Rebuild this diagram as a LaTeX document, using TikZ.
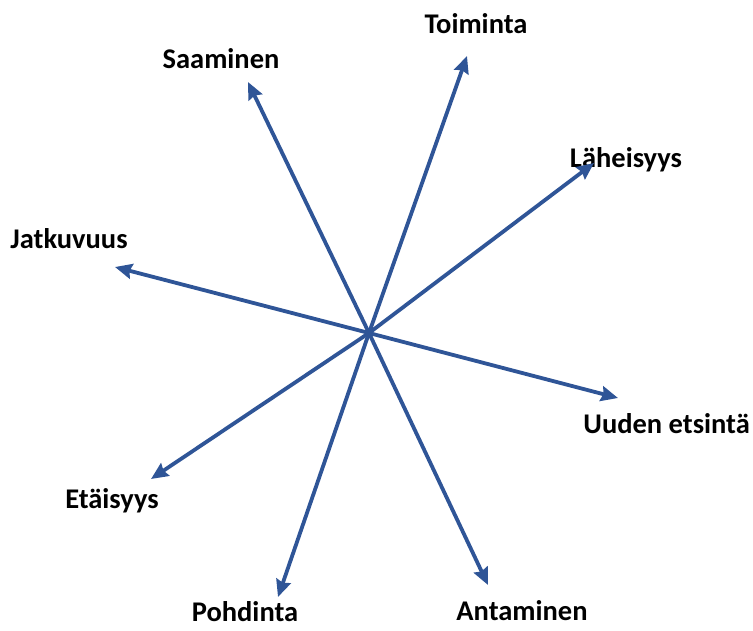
\documentclass[tikz,border=0pt]{standalone}
\usepackage{fontspec}
\setmainfont{Carlito}
\usetikzlibrary{arrows.meta}
\definecolor{arrowblue}{RGB}{47,85,151}
\tikzset{
  lbl/.style={font=\bfseries\fontsize{28.5}{32}\selectfont, inner sep=0pt, anchor=base},
  ray/.style={draw=arrowblue, line width=3.8pt, -{Stealth[length=17pt,width=15pt,inset=2pt]}}
}
\begin{document}
\begin{tikzpicture}[x=1pt,y=-1pt]
\useasboundingbox (0,0) rectangle (753,630);
\coordinate (c) at (369,333);
\coordinate (tToiminta) at (467,56);
\coordinate (tSaaminen) at (248,82);
\coordinate (tLaheisyys) at (594,163);
\coordinate (tJatkuvuus) at (115,267);
\coordinate (tUuden) at (618,398);
\coordinate (tEtaisyys) at (151,479);
\coordinate (tPohdinta) at (278,597);
\coordinate (tAntaminen) at (488,585);
\node[lbl] (lToiminta) at (476,33) {Toiminta};
\node[lbl] (lSaaminen) at (221,68) {Saaminen};
\node[lbl] (lLaheisyys) at (626,167) {Läheisyys};
\node[lbl] (lJatkuvuus) at (69,248) {Jatkuvuus};
\node[lbl, anchor=base east] (lUuden) at (750,433) {Uuden etsintä};
\node[lbl] (lEtaisyys) at (112,508) {Etäisyys};
\node[lbl] (lPohdinta) at (245,621) {Pohdinta};
\node[lbl] (lAntaminen) at (522,620) {Antaminen};
\foreach \t in {tToiminta,tSaaminen,tLaheisyys,tJatkuvuus,tUuden,tEtaisyys,tPohdinta,tAntaminen}
  \draw[ray] (c) -- (\t);
\end{tikzpicture}
\end{document}
